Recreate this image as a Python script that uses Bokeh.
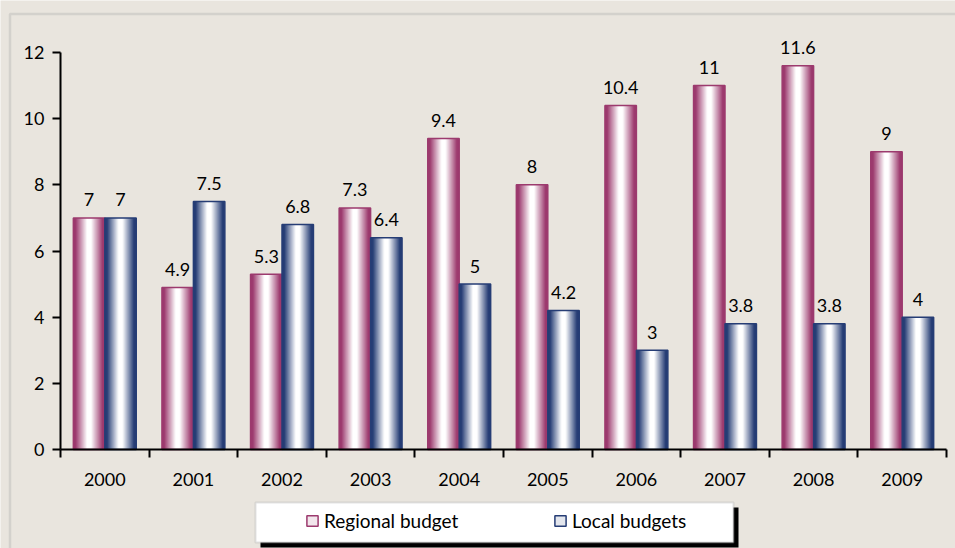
import numpy as np
from bokeh.plotting import figure
from bokeh.models import (ColumnDataSource, Range1d, FixedTicker, LinearAxis,
                          BoxAnnotation, Legend, LegendItem)
from bokeh.transform import dodge
from bokeh.core.properties import value
from bokeh.embed import file_html
from bokeh.resources import INLINE

# ---------------- data ----------------
years = ["2000", "2001", "2002", "2003", "2004", "2005", "2006", "2007", "2008", "2009"]
regional = [7, 4.9, 5.3, 7.3, 9.4, 8, 10.4, 11, 11.6, 9]
local = [7, 7.5, 6.8, 6.4, 5, 4.2, 3, 3.8, 3.8, 4]
y_ticks = [0, 2, 4, 6, 8, 10, 12]
series_names = ["Regional budget", "Local budgets"]

# ---------------- style / layout ----------------
WIDTH, HEIGHT = 955, 548
FONT = "Lato"
FS = "18px"
FS_LEG = "19px"
BG = "#E9E5DE"
REG = "#9C3A6E"
LOC = "#263D75"
W = 0.355          # bar width in category units
N = 16             # gradient layers

# pixel placement of the axes inside the canvas
PX_LEFT, PX_RIGHT = 60, 946      # x = 0 and x = n categories
PX_ZERO, PX_TOP = 449, 52        # y = 0 and y = top tick
n = len(years)
y_top = y_ticks[-1]
ux = (PX_RIGHT - PX_LEFT) / n
uy = (PX_ZERO - PX_TOP) / y_top
x_range = Range1d(-PX_LEFT / ux, n + (WIDTH - PX_RIGHT) / ux)
y_range = Range1d(-(HEIGHT - PX_ZERO) / uy, y_top + PX_TOP / uy)


def mix(c, t):
    c = c.lstrip("#")
    r, g, b = (int(c[i:i + 2], 16) for i in (0, 2, 4))
    r = round(r + (255 - r) * t)
    g = round(g + (255 - g) * t)
    b = round(b + (255 - b) * t)
    return "#%02x%02x%02x" % (r, g, b)


centers = np.arange(n) + 0.5
src = ColumnDataSource(dict(
    x=centers, regional=regional, local=local,
    reg_lbl=[f"{v:g}" for v in regional],
    loc_lbl=[f"{v:g}" for v in local],
))

p = figure(width=WIDTH, height=HEIGHT, x_range=x_range, y_range=y_range,
           output_backend="svg", toolbar_location=None,
           x_axis_type=None, y_axis_type=None,
           min_border=0, min_border_left=0, min_border_right=0,
           min_border_top=0, min_border_bottom=0)
p.background_fill_color = BG
p.border_fill_color = BG
p.outline_line_color = None


def canvas_box(**kw):
    return BoxAnnotation(left_units="canvas", right_units="canvas",
                         top_units="canvas", bottom_units="canvas", **kw)


# outer chart-area border (runs past the window like the reference)
p.add_layout(canvas_box(left=9.5, right=3000, top=13.5, bottom=3000,
                        fill_alpha=0, line_color="#A3A3A3", line_width=2.5,
                        level="underlay"))

# ---------------- bars (layered to imitate the gradient) ----------------
legend_renderers = {}
for col, lbl, color, off in (("regional", "reg_lbl", REG, -W / 2),
                             ("local", "loc_lbl", LOC, W / 2)):
    xs = dodge("x", off, range=p.x_range)
    layers = []
    for k in range(N):
        t = k / (N - 1)
        m = min(1.0, max(0.0, (t - 0.12) / 0.78))
        r = p.vbar(x=xs, top=col, width=W * (1 - k / N), bottom=0, source=src,
                   fill_color=mix(color, m), line_color=None)
        layers.append(r)
    outline = p.vbar(x=xs, top=col, width=W, bottom=0, source=src,
                     fill_color=None, line_color=color, line_width=1.5)
    legend_renderers[col] = [layers[int(N * 0.75)], outline]
    p.text(x=xs, y=col, text=lbl, source=src, text_align="center",
           text_baseline="alphabetic", y_offset=-18,
           text_font=value(FONT), text_font_size=FS, text_color="black")

# ---------------- axes ----------------
yaxis = LinearAxis(ticker=FixedTicker(ticks=y_ticks, minor_ticks=[]),
                   bounds=(0, y_top), fixed_location=0)
yaxis.axis_line_width = 2
yaxis.axis_line_color = "black"
yaxis.major_tick_line_width = 2
yaxis.major_tick_line_color = "black"
yaxis.major_tick_in = 0
yaxis.major_tick_out = 8
yaxis.minor_tick_line_color = None
yaxis.major_label_standoff = 8
yaxis.major_label_text_font = FONT
yaxis.major_label_text_font_size = FS
yaxis.major_label_text_color = "black"
p.add_layout(yaxis, "left")

xaxis = LinearAxis(ticker=FixedTicker(ticks=list(centers),
                                      minor_ticks=list(range(n + 1))),
                   major_label_overrides={float(c): y for c, y in zip(centers, years)},
                   bounds=(0, n), fixed_location=0)
xaxis.axis_line_width = 2
xaxis.axis_line_color = "black"
xaxis.major_tick_line_color = None
xaxis.major_tick_in = 0
xaxis.major_tick_out = 0
xaxis.minor_tick_line_color = "black"
xaxis.minor_tick_line_width = 2
xaxis.minor_tick_in = 0
xaxis.minor_tick_out = 8
xaxis.major_label_standoff = 15
xaxis.major_label_text_font = FONT
xaxis.major_label_text_font_size = FS
xaxis.major_label_text_color = "black"
p.add_layout(xaxis, "below")

# ---------------- legend ----------------
p.add_layout(canvas_box(left=260, right=738, top=507, bottom=547,
                        fill_color="black", fill_alpha=1, line_color=None))
p.add_layout(canvas_box(left=255, right=733, top=502, bottom=542,
                        fill_color="white", fill_alpha=1,
                        line_color="#A3A3A3", line_width=2))

legend = Legend(items=[LegendItem(label=series_names[0], renderers=legend_renderers["regional"]),
                       LegendItem(label=series_names[1], renderers=legend_renderers["local"])],
                location=(305, 16), orientation="horizontal",
                padding=0, margin=0, spacing=5, label_standoff=5,
                glyph_width=14, glyph_height=13, label_width=224,
                border_line_color=None, background_fill_alpha=0,
                label_text_font=FONT, label_text_font_size=FS_LEG,
                label_text_color="black")
p.add_layout(legend)

open("out.html", "w").write(file_html(p, INLINE))
